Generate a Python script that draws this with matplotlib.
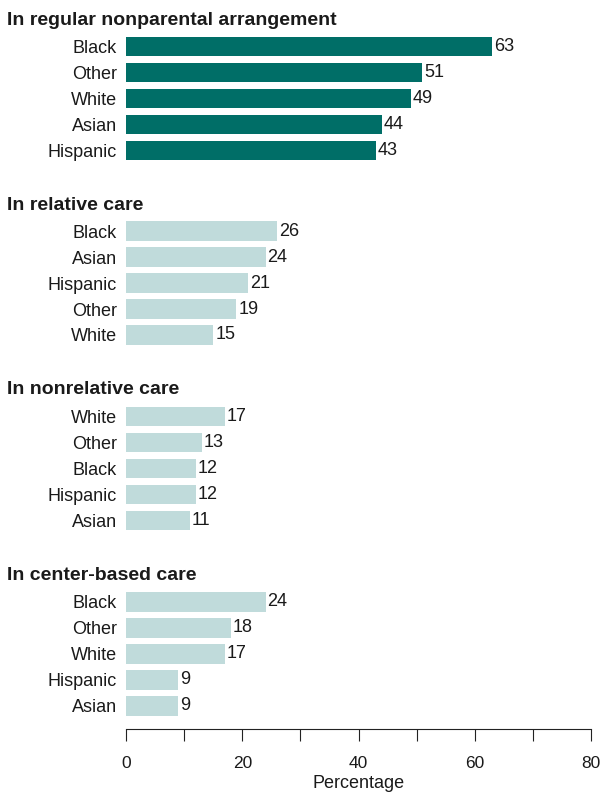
"""Child care arrangements by race/ethnicity, four stacked bar panels."""
import matplotlib
matplotlib.use('Agg')
import matplotlib.pyplot as plt
from matplotlib.ticker import MultipleLocator, FuncFormatter

plt.rcParams['font.family'] = ['Liberation Sans', 'DejaVu Sans']

panel_titles = ['In regular nonparental arrangement', 'In relative care',
                'In nonrelative care', 'In center-based care']

regular_groups = ['Black', 'Other', 'White', 'Asian', 'Hispanic']
regular_values = [63, 51, 49, 44, 43]

relative_groups = ['Black', 'Asian', 'Hispanic', 'Other', 'White']
relative_values = [26, 24, 21, 19, 15]

nonrelative_groups = ['White', 'Other', 'Black', 'Hispanic', 'Asian']
nonrelative_values = [17, 13, 12, 12, 11]

center_groups = ['Black', 'Other', 'White', 'Hispanic', 'Asian']
center_values = [24, 18, 17, 9, 9]

DARK = '#006E67'
LIGHT = '#C0DBDB'
TEXT = '#1a1a1a'
FS = 13

W, H = 600, 793
PT = 0.72  # points per pixel at dpi 100
fig = plt.figure(figsize=(W / 100, H / 100), dpi=100)

# (groups, values, colour, centre of first bar in px, title baseline in px)
panels = [
    (regular_groups, regular_values, DARK, 46.2, 25),
    (relative_groups, relative_values, LIGHT, 231, 209.5),
    (nonrelative_groups, nonrelative_values, LIGHT, 416.5, 394),
    (center_groups, center_values, LIGHT, 602, 580),
]

left_px, right_px = 126, 591
for k, (groups, values, color, first_px, title_px) in enumerate(panels):
    top_px = first_px - 13
    ax = fig.add_axes([left_px / W, 1 - (top_px + 130) / H,
                       (right_px - left_px) / W, 130 / H])
    ypos = list(range(len(groups)))
    ax.barh(ypos, values, height=0.74, color=color, edgecolor='none')
    for y, v in zip(ypos, values):
        ax.annotate(str(v), (v, y), xytext=(2, 0), textcoords='offset pixels',
                    va='center', ha='left', fontsize=FS, color=TEXT)
    ax.set_xlim(0, 80)
    ax.set_ylim(4.5, -0.5)
    ax.set_yticks(ypos)
    ax.set_yticklabels(groups, fontsize=FS, color=TEXT)
    ax.tick_params(axis='y', length=0, pad=9 * PT)
    for s in ['top', 'right', 'left']:
        ax.spines[s].set_visible(False)
    if k < 3:
        ax.spines['bottom'].set_visible(False)
        ax.tick_params(axis='x', bottom=False, labelbottom=False)
    else:
        ax.spines['bottom'].set_position(('outward', 10 * PT))
        ax.spines['bottom'].set_color('#222222')
        ax.spines['bottom'].set_linewidth(0.8)
        ax.xaxis.set_major_locator(MultipleLocator(10))
        ax.xaxis.set_major_formatter(
            FuncFormatter(lambda x, p: f'{x:.0f}' if x % 20 == 0 else ''))
        ax.tick_params(axis='x', length=12 * PT, width=0.8, color='#222222',
                       pad=15 * PT, labelsize=12.5, labelcolor=TEXT)
        ax.set_xlabel('Percentage', fontsize=FS, color=TEXT, labelpad=3)
    fig.text(7 / W, 1 - title_px / H, panel_titles[k], fontsize=14,
             fontweight='bold', va='baseline', ha='left', color=TEXT)

fig.savefig('out.png', dpi=100)
